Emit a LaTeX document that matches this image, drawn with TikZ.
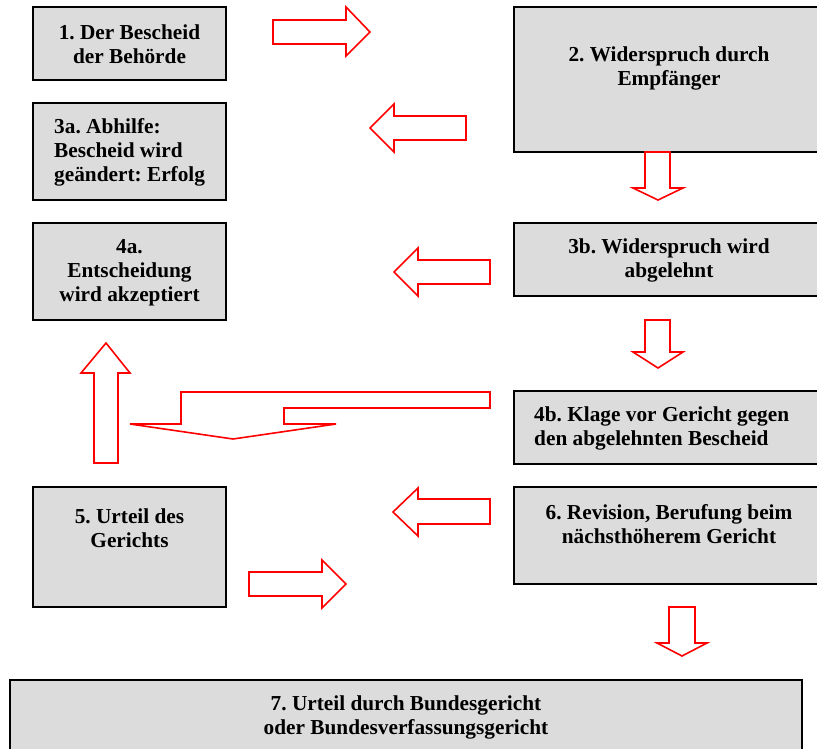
\documentclass[tikz,border=0pt]{standalone}
\usepackage{fontspec}
\setmainfont{Liberation Serif}
\frenchspacing
\begin{document}
\begin{tikzpicture}[x=1pt,y=-1pt,
  box/.style={draw=black,line width=2.2pt,fill=boxgray,inner sep=0pt},
  lbl/.style={inner sep=0pt,align=center,font=\fontsize{21.3}{24}\selectfont\bfseries\frenchspacing},
  lbll/.style={lbl,align=left,anchor=west},
  blockarrow/.style={draw=red,line width=1.6pt,fill=white,line join=miter}]
\definecolor{boxgray}{RGB}{220,220,220}
\useasboundingbox (0,0) rectangle (817,748);
\clip (0,0) rectangle (817,748);
% boxes
\node[box,minimum width=193,minimum height=73] (b1) at (129.5,43.5) {};
\node[box,minimum width=193,minimum height=97] (b3a) at (129.5,151.5) {};
\node[box,minimum width=193,minimum height=97] (b4a) at (129.5,271.5) {};
\node[box,minimum width=193,minimum height=120] (b5) at (129.5,547) {};
\node[box,minimum width=310,minimum height=145] (b2) at (669,79.5) {};
\node[box,minimum width=310,minimum height=73] (b3b) at (669,259.5) {};
\node[box,minimum width=310,minimum height=73] (b4b) at (669,427.5) {};
\node[box,minimum width=310,minimum height=97] (b6) at (669,535.5) {};
\node[box,minimum width=792,minimum height=90] (b7) at (406,725) {};
% texts
\node[lbl] (t1) at (129.5,44) {1. Der Bescheid\\der Behörde};
\node[lbll] (t3a) at (54,152) {3a. Abhilfe:\\Bescheid wird\\geändert: Erfolg};
\node[lbl] (t4a) at (129.5,273) {4a.\\Entscheidung\\wird akzeptiert};
\node[lbl] (t5) at (129.5,528) {5. Urteil des\\Gerichts};
\node[lbl] (t2) at (669,68.5) {2. Widerspruch durch\\Empfänger};
\node[lbl] (t3b) at (669,260) {3b. Widerspruch wird\\abgelehnt};
\node[lbll] (t4b) at (534,428) {4b. Klage vor Gericht gegen\\den abgelehnten Bescheid};
\node[lbl] (t6) at (669,524.5) {6. Revision, Berufung beim\\nächsthöherem Gericht};
\node[lbl] (t7) at (406,717) {7. Urteil durch Bundesgericht\\oder Bundesverfassungsgericht};
% block arrows
\draw[blockarrow] (273,20) -- (346,20) -- (346,7) -- (370,32) -- (346,56) -- (346,44) -- (273,44) -- cycle;
\draw[blockarrow] (466,116) -- (394,116) -- (394,104) -- (370,128) -- (394,152) -- (394,140) -- (466,140) -- cycle;
\draw[blockarrow] (645,152) -- (670,152) -- (670,188) -- (683,188) -- (658,200) -- (633,188) -- (645,188) -- cycle;
\draw[blockarrow] (490,260) -- (418,260) -- (418,248) -- (394,272) -- (418,296) -- (418,284) -- (490,284) -- cycle;
\draw[blockarrow] (645,320) -- (670,320) -- (670,352) -- (683,352) -- (658,368) -- (633,352) -- (645,352) -- cycle;
\draw[blockarrow] (181,392) -- (490,392) -- (490,408) -- (284,408) -- (284,424) -- (336,424) -- (233,439) -- (130,424) -- (181,424) -- cycle;
\draw[blockarrow] (94,463) -- (94,373) -- (81,373) -- (106,343) -- (130,373) -- (118,373) -- (118,463) -- cycle;
\draw[blockarrow] (490,499) -- (418,499) -- (418,488) -- (393,512) -- (418,536) -- (418,524) -- (490,524) -- cycle;
\draw[blockarrow] (249,572) -- (322,572) -- (322,560) -- (346,584) -- (322,608) -- (322,596) -- (249,596) -- cycle;
\draw[blockarrow] (669,607) -- (695,607) -- (695,643) -- (707,643) -- (682,656) -- (657,643) -- (669,643) -- cycle;
\end{tikzpicture}
\end{document}
